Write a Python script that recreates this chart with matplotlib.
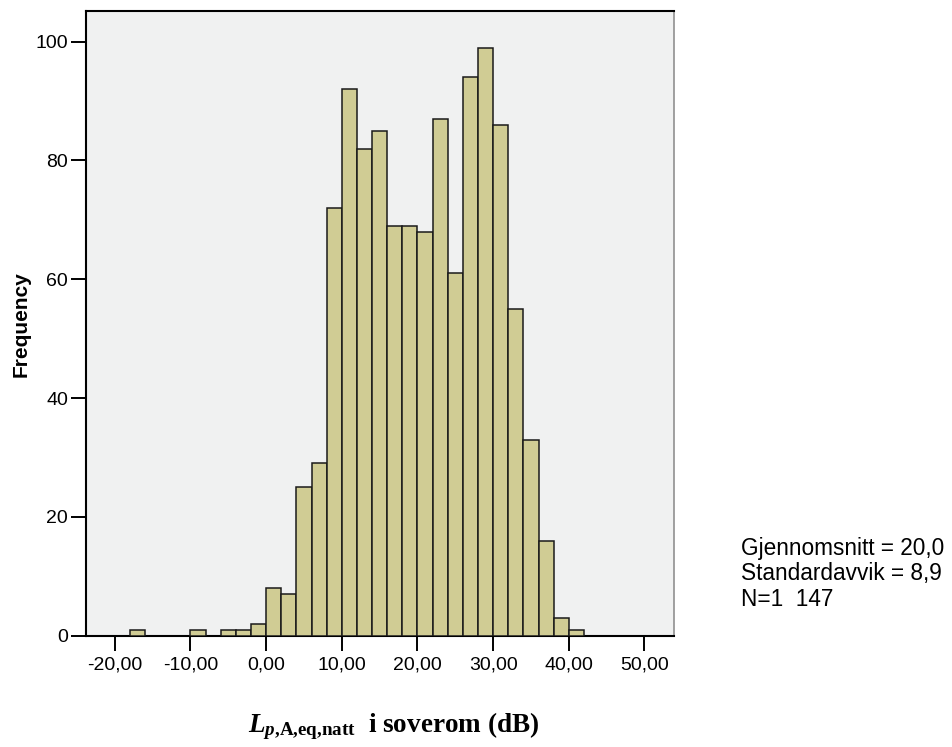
import matplotlib
matplotlib.use("Agg")
import matplotlib.pyplot as plt
import numpy as np

# Histogram bins (left edges, width 2 dB) and frequencies
bin_left = [-18, -16, -14, -12, -10, -8, -6, -4, -2, 0, 2, 4, 6, 8, 10, 12, 14,
            16, 18, 20, 22, 24, 26, 28, 30, 32, 34, 36, 38, 40]
counts = [1, 0, 0, 0, 1, 0, 1, 1, 2, 8, 7, 25, 29, 72, 92, 82, 85,
          69, 69, 68, 87, 61, 94, 99, 86, 55, 33, 16, 3, 1]
bin_width = 2

x_ticks = [-20, -10, 0, 10, 20, 30, 40, 50]
x_ticklabels = ["-20,00", "-10,00", "0,00", "10,00", "20,00", "30,00", "40,00", "50,00"]
y_ticks = [0, 20, 40, 60, 80, 100]

stats_lines = ["Gjennomsnitt = 20,0", "Standardavvik = 8,9", "N=1  147"]

plt.rcParams['font.family'] = ['Liberation Sans', 'DejaVu Sans']
plt.rcParams['mathtext.fontset'] = 'custom'
plt.rcParams['mathtext.rm'] = 'Liberation Serif:bold'
plt.rcParams['mathtext.it'] = 'Liberation Serif:italic:bold'
plt.rcParams['mathtext.bf'] = 'Liberation Serif:bold'

fig = plt.figure(figsize=(9.52, 7.47), dpi=100)
ax = fig.add_axes([86/952, 1-635.7/747, (674-86)/952, (635.7-10.7)/747])
ax.set_facecolor('#F0F1F1')

nz = [(l, c) for l, c in zip(bin_left, counts) if c > 0]
ax.bar([l for l, c in nz], [c for l, c in nz], width=bin_width, align='edge',
       color='#D0CC94', edgecolor='#1a1a1a', linewidth=1.1, zorder=3)

ax.set_xlim(-23.8, 53.9)
ax.set_ylim(0, 105.2)
ax.set_xticks(x_ticks)
ax.set_xticklabels(x_ticklabels)
ax.set_yticks(y_ticks)
ax.tick_params(axis='both', direction='out', length=11, width=1.4, labelsize=14,
               colors='black')
ax.tick_params(axis='x', pad=4)
ax.tick_params(axis='y', pad=2)

for s in ['left', 'top', 'bottom']:
    ax.spines[s].set_color('black')
    ax.spines[s].set_linewidth(1.5)
ax.spines['right'].set_color('#909090')
ax.spines['right'].set_linewidth(1.2)

fig.text(21/952, 1-324/747, "Frequency", rotation=90, ha='center', va='center',
         fontsize=15, fontweight='bold')

fig.text(394/952, 1-726/747, r"$L_{p{,}\mathrm{A{,}eq{,}natt}}$  i soverom (dB)",
         ha='center', va='center', fontsize=19.5, fontweight='bold',
         family='Liberation Serif')

for i, line in enumerate(stats_lines):
    fig.text(741/952, 1-(548+25.7*i)/747, line, ha='left', va='center', fontsize=16.3)

fig.savefig("out.png", dpi=100, facecolor='white')
